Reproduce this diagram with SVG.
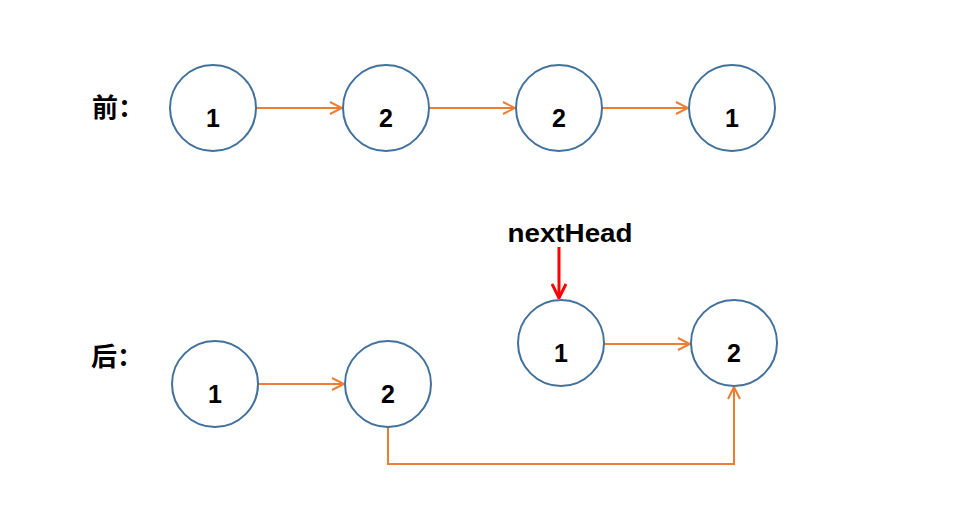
<svg xmlns="http://www.w3.org/2000/svg" width="958" height="520" viewBox="0 0 958 520">
<style>
.node circle{fill:#fff;stroke:#41719C;stroke-width:2}
.num{font-family:"Liberation Sans",Arial,sans-serif;font-weight:bold;font-size:25px;text-anchor:middle;fill:#000}
.lbl{font-family:"Noto Sans CJK SC","Liberation Serif",serif;font-size:26px;font-weight:bold;fill:#000}
.edge{fill:none;stroke:#ED7D31;stroke-width:2}
</style>
<defs>
<marker id="ao" viewBox="0 0 14 14" refX="13" refY="7" markerWidth="14" markerHeight="14" markerUnits="userSpaceOnUse" orient="auto">
<path d="M1,1 L13,7 L1,13" fill="none" stroke="#ED7D31" stroke-width="2"/>
</marker>
<marker id="ar" viewBox="0 0 16 16" refX="15" refY="8" markerWidth="16" markerHeight="16" markerUnits="userSpaceOnUse" orient="auto">
<path d="M1,1 L15,8 L1,15" fill="none" stroke="#FF0000" stroke-width="3"/>
</marker>
</defs>
<rect width="958" height="520" fill="#fff"/>
<text class="lbl" x="92" y="117">前：</text>
<text class="lbl" x="91" y="366">后：</text>
<g id="connectors">
<line class="edge" x1="256" y1="108" x2="342" y2="108" marker-end="url(#ao)"/>
<line class="edge" x1="429" y1="108" x2="515" y2="108" marker-end="url(#ao)"/>
<line class="edge" x1="602" y1="108" x2="688" y2="108" marker-end="url(#ao)"/>
<line class="edge" x1="258" y1="384" x2="344" y2="384" marker-end="url(#ao)"/>
<line class="edge" x1="604" y1="344" x2="690" y2="344" marker-end="url(#ao)"/>
<polyline class="edge" points="388,427 388,464 734,464 734,387" marker-end="url(#ao)"/>
<line x1="559" y1="247" x2="559" y2="298" stroke="#FF0000" stroke-width="3" marker-end="url(#ar)"/>
</g>
<g id="n1" class="node"><circle cx="213" cy="108" r="43"/><text class="num" x="213" y="127">1</text></g>
<g id="n2" class="node"><circle cx="386" cy="108" r="43"/><text class="num" x="386" y="127">2</text></g>
<g id="n3" class="node"><circle cx="559" cy="108" r="43"/><text class="num" x="559" y="127">2</text></g>
<g id="n4" class="node"><circle cx="732" cy="108" r="43"/><text class="num" x="732" y="127">1</text></g>
<g id="m1" class="node"><circle cx="215" cy="384" r="43"/><text class="num" x="215" y="403">1</text></g>
<g id="m2" class="node"><circle cx="388" cy="384" r="43"/><text class="num" x="388" y="403">2</text></g>
<g id="m3" class="node"><circle cx="561" cy="343" r="43"/><text class="num" x="561" y="362">1</text></g>
<g id="m4" class="node"><circle cx="734" cy="343" r="43"/><text class="num" x="734" y="362">2</text></g>
<g id="label-nextHead"><text x="570" y="242" font-family="'Liberation Sans',Arial,sans-serif" font-weight="bold" font-size="26" text-anchor="middle" textLength="125" lengthAdjust="spacingAndGlyphs">nextHead</text></g>
</svg>
